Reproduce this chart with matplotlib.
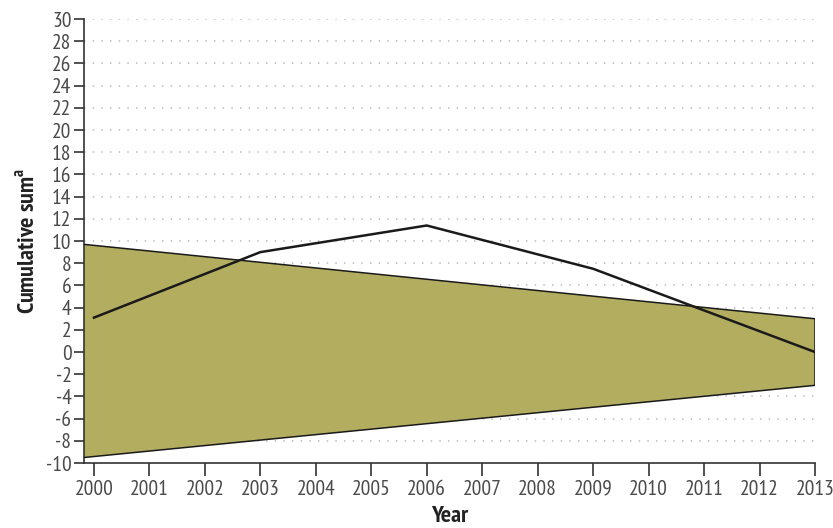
import matplotlib
matplotlib.use("Agg")
import matplotlib.pyplot as plt

# observed cumulative sum
line_years = [2000, 2003, 2006, 2009, 2013]
line_values = [3.1, 9.0, 11.4, 7.5, 0.0]

# control band (starts at the axis edge)
band_years = [1999.82, 2013]
band_upper = [9.7, 3.0]
band_lower = [-9.5, -3.0]

year_ticks = list(range(2000, 2014))
value_ticks = list(range(-10, 31, 2))

plt.rcParams["font.family"] = ["PT Sans Narrow", "DejaVu Sans"]
plt.rcParams["axes.unicode_minus"] = False

fig = plt.figure(figsize=(8.33, 5.28), dpi=100)
ax = fig.add_axes([0.1008, 0.123, 0.8776, 0.841])

ax.fill_between(band_years, band_lower, band_upper, facecolor="#B3AD5F",
                edgecolor="none", zorder=2)
ax.plot(band_years, band_upper, color="#1a1a1a", lw=1.1, zorder=3)
ax.plot(band_years, band_lower, color="#1a1a1a", lw=1.1, zorder=3)
ax.plot([band_years[-1]] * 2, [band_lower[-1], band_upper[-1]],
        color="#1a1a1a", lw=1.1, zorder=3)
ax.plot(line_years, line_values, color="#1a1a1a", lw=1.8, zorder=4)

ax.set_xlim(band_years[0], 2013)
ax.set_ylim(-10, 30)
ax.set_xticks(year_ticks)
ax.set_yticks(value_ticks)

for v in value_ticks[1:]:
    ax.axhline(v, color="#c4c4c4", lw=1.3, ls=(0, (0.8, 4)), zorder=1)

for side in ("top", "right"):
    ax.spines[side].set_visible(False)
for side in ("left", "bottom"):
    ax.spines[side].set_color("#333333")
    ax.spines[side].set_linewidth(1.2)

ax.tick_params(axis="both", direction="out", length=7, width=1.2,
               color="#333333", labelcolor="#4a4a4a", labelsize=15.5)
ax.tick_params(axis="y", pad=2)
ax.tick_params(axis="x", length=9, pad=3)

ax.set_xlabel("Year", fontsize=17.5, fontweight="bold", color="#222222", labelpad=5)
ax.set_ylabel(r"Cumulative sum$^{\mathregular{a}}$", fontsize=17.5,
              fontweight="bold", color="#222222", labelpad=4)

fig.savefig("out.png", dpi=100)
